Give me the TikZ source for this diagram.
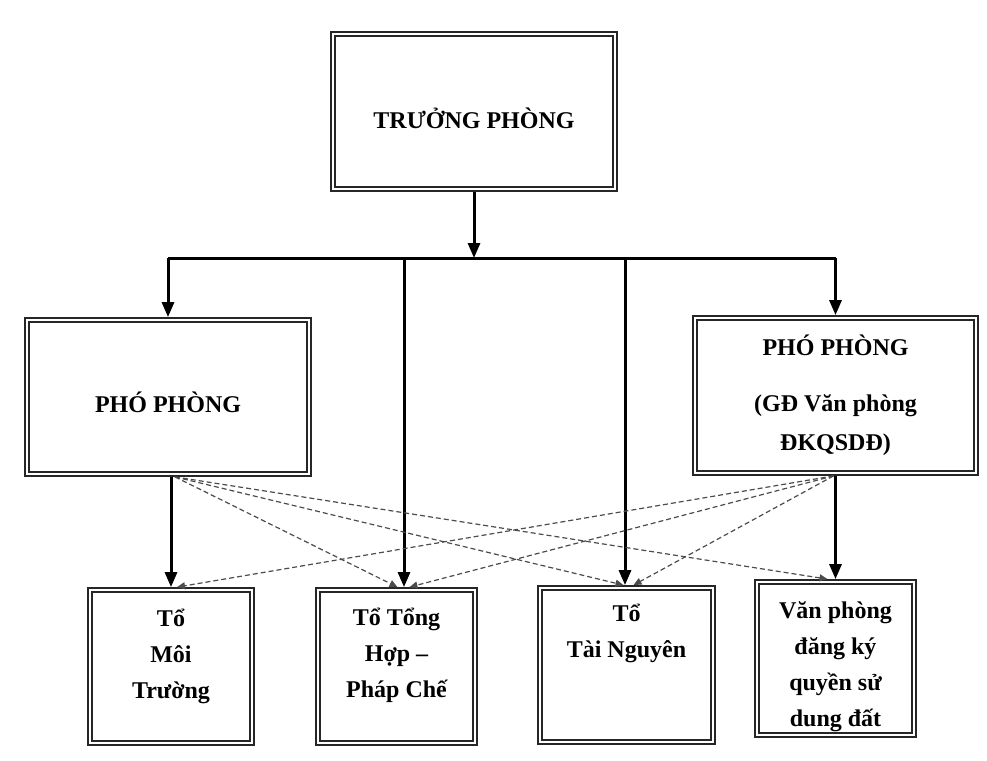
\documentclass[tikz,border=0pt]{standalone}
\usepackage{fontspec}
\setmainfont{Liberation Serif}
\usetikzlibrary{arrows.meta,positioning}

\begin{document}
\begin{tikzpicture}[
  x=1pt,y=-1pt,
  box/.style={rectangle,draw=black!85,line width=1.9pt,double=white,
              double distance=2pt,inner sep=0pt,outer sep=2.9pt,
              font=\bfseries\fontsize{24}{39}\selectfont,align=center},
  txt/.style={inner sep=0pt,font=\bfseries\fontsize{24}{36}\selectfont,align=center},
  arr/.style={-{Triangle[length=15pt,width=12pt]},line width=3pt},
  bar/.style={line width=3pt},
  hint/.style={-{Triangle[length=8pt,width=7pt]},black!70,line width=1.2pt,
               dash pattern=on 5pt off 3pt},
]
\useasboundingbox (0,0) rectangle (987,760);

\node[box,minimum width=282pt,minimum height=155pt,text height=33pt,text depth=0pt]
  (chief) at (474,111.5) {TRƯỞNG PHÒNG};
\node[box,minimum width=282pt,minimum height=154pt,text height=30pt,text depth=0pt]
  (deputyL) at (168,397) {PHÓ PHÒNG};
\node[box,minimum width=281pt,minimum height=155pt] (deputyR) at (835.5,395.5)
  {PHÓ PHÒNG\\[17pt](GĐ Văn phòng\\ĐKQSDĐ)};

\node[box,minimum width=162pt,minimum height=153pt] (envir) at (171,666.5) {};
\node[box,minimum width=157pt,minimum height=153pt] (legal) at (396.5,666.5) {};
\node[box,minimum width=173pt,minimum height=154pt] (resource) at (626.5,665) {};
\node[box,minimum width=157pt,minimum height=153pt] (office) at (835.5,658.5) {};

\node[txt,below=22pt of envir.north] (envirtxt) {Tổ\\Môi\\Trường};
\node[txt,below=21pt of legal.north] (legaltxt) {Tổ Tổng\\Hợp --\\Pháp Chế};
\node[txt,below=19pt of resource.north] (resourcetxt) {Tổ\\Tài Nguyên};
\node[txt,below=22pt of office.north] (officetxt) {Văn phòng\\đăng ký\\quyền sử\\dung đất};

\coordinate (bus) at (474,258);
\coordinate (busL) at (deputyL |- bus);
\coordinate (busR) at (deputyR |- bus);
\coordinate (bus2) at (404,258);
\coordinate (bus3) at (625,258);

\draw[arr] (chief) -- (bus);
\draw[bar] (busL) -- (busR);
\draw[arr] (busL) -- (deputyL);
\draw[arr] (busR) -- (deputyR);
\draw[arr] (bus2) -- (bus2 |- legal.north);
\draw[arr] (bus3) -- (bus3 |- resource.north);
\draw[arr] (envir |- deputyL.south) -- (envir);
\draw[arr] (office |- deputyR.south) -- (office);

\draw[hint] ([xshift=7pt]deputyL.south) -- ([xshift=1pt]legal.north);
\draw[hint] ([xshift=7pt]deputyL.south) -- ([xshift=-3pt]resource.north);
\draw[hint] ([xshift=7pt]deputyL.south) -- ([xshift=-8pt]office.north);
\draw[hint] ([xshift=-2pt]deputyR.south) -- ([xshift=6pt]envir.north);
\draw[hint] ([xshift=-2pt]deputyR.south) -- ([xshift=13pt]legal.north);
\draw[hint] ([xshift=-2pt]deputyR.south) -- ([xshift=7pt]resource.north);

\end{tikzpicture}
\end{document}
